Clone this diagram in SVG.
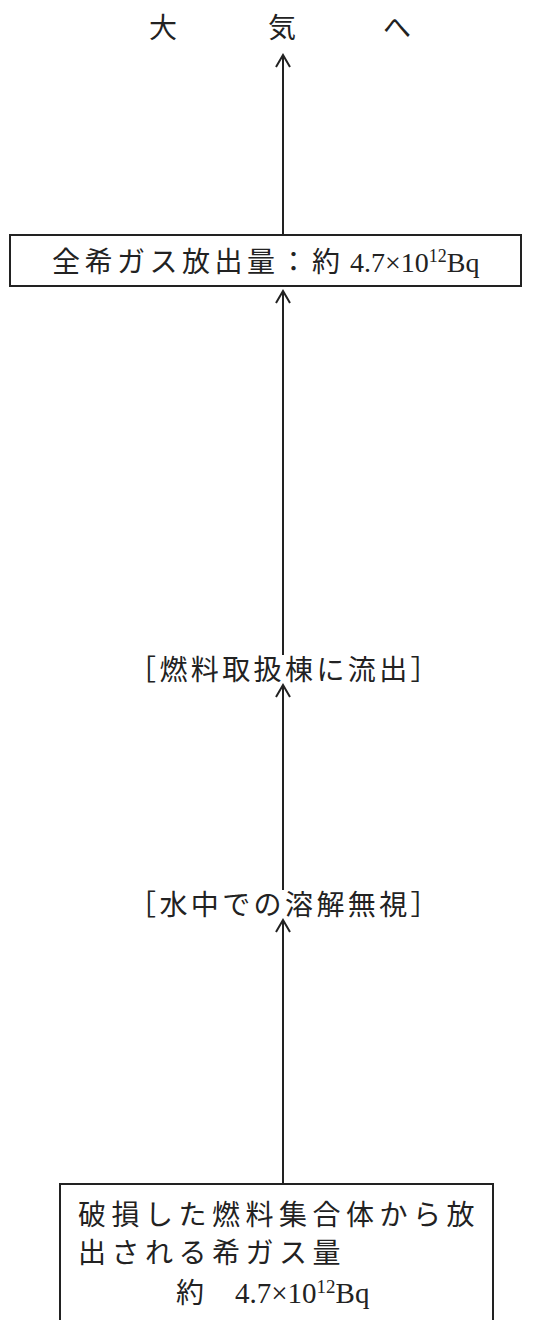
<svg xmlns="http://www.w3.org/2000/svg" width="549" height="1320" viewBox="0 0 549 1320">
<defs>
<style>
.t{font-family:"Liberation Serif","Noto Sans CJK JP",serif;font-size:28px;fill:#222}
.jp{letter-spacing:4.5px}
.br{letter-spacing:3.4px}
.wide{letter-spacing:5.5px}
.sup{font-size:18px}
.box{fill:#fff;stroke:#222;stroke-width:2}
.con line{stroke:#222;stroke-width:2}
</style>
<marker id="ah" markerUnits="userSpaceOnUse" markerWidth="20" markerHeight="20" refX="0" refY="0" viewBox="-14 -10 16 20" orient="auto">
<path d="M-12,-7 L0,0 L-12,7" fill="none" stroke="#222" stroke-width="2"/>
</marker>
</defs>
<rect width="549" height="1320" fill="#fff"/>
<g id="atmosphere">
<text class="t" x="163" y="38" text-anchor="middle">大</text>
<text class="t" x="282" y="38" text-anchor="middle">気</text>
<text class="t" x="397" y="38" text-anchor="middle">へ</text>
</g>
<g id="total">
<rect class="box" x="10" y="235" width="511" height="51"/>
<text class="t" x="52" y="272"><tspan class="jp">全希ガス放出量：約</tspan><tspan x="350">4.7×10</tspan><tspan class="sup" dy="-10">12</tspan><tspan dy="10">Bq</tspan></text>
</g>
<g id="building">
<text class="t br" x="285" y="680" text-anchor="middle">［燃料取扱棟に流出］</text>
</g>
<g id="water">
<text class="t br" x="285" y="915" text-anchor="middle">［水中での溶解無視］</text>
</g>
<g id="source">
<rect class="box" x="60" y="1184" width="433" height="150"/>
<text class="t wide" x="78" y="1225">破損した燃料集合体から放</text>
<text class="t wide" x="78" y="1263">出される希ガス量</text>
<text class="t" x="176" y="1303">約<tspan x="235" style="font-size:29px">4.7×10</tspan><tspan class="sup" dy="-10" style="font-size:19px">12</tspan><tspan dy="10" style="font-size:29px">Bq</tspan></text>
</g>
<g class="con" id="connectors">
<line x1="283" y1="235" x2="283" y2="55" marker-end="url(#ah)"/>
<line x1="283" y1="655" x2="283" y2="291" marker-end="url(#ah)"/>
<line x1="283" y1="890" x2="283" y2="685" marker-end="url(#ah)"/>
<line x1="283" y1="1184" x2="283" y2="920" marker-end="url(#ah)"/>
</g>
</svg>
